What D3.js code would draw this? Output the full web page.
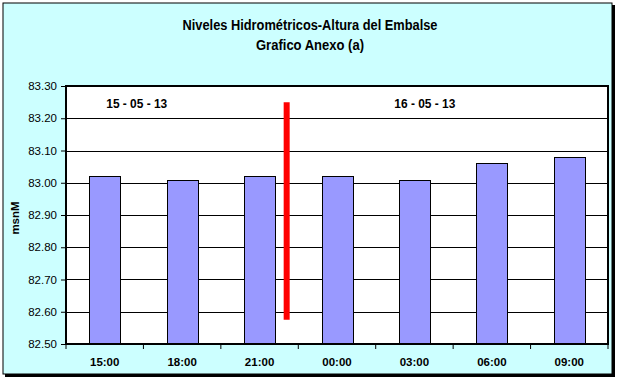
<!DOCTYPE html>
<html><head><meta charset="utf-8">
<script src="https://cdn.jsdelivr.net/npm/d3@7"></script>
<style>body{margin:0;background:#fff}svg{display:block}text{font-family:"Liberation Sans",Arial,sans-serif}</style>
</head><body>
<svg id="c" width="619" height="383"></svg>
<script>
const categories = ["15:00","18:00","21:00","00:00","03:00","06:00","09:00"];
const values = [83.02, 83.01, 83.02, 83.02, 83.01, 83.06, 83.08];
const yTicks = [82.50,82.60,82.70,82.80,82.90,83.00,83.10,83.20,83.30];
const dayLabels = [{text:"15 - 05 - 13", pos:0.52},{text:"16 - 05 - 13", pos:4.24}];
const dayLabelValue = 83.25;
const marker = {pos:2.85, from:82.575, to:83.25};
const titleLines = ["Niveles Hidrométricos-Altura del Embalse","Grafico Anexo (a)"];
const titleWidths = [255, 108];
const yLabel = "msnM";

const svg = d3.select("#c");
// outer frame with shadow
svg.append("rect").attr("x",5).attr("y",5).attr("width",610).attr("height",372).attr("fill","#000");
svg.append("rect").attr("x",3).attr("y",3).attr("width",609).attr("height",371).attr("fill","#CCFFFF").attr("stroke","#000").attr("stroke-width",1);

const m = {l:66,r:608,t:86,b:344};
const x = d3.scaleBand().domain(categories).range([m.l,m.r]).paddingInner(0.6).paddingOuter(0.3);
const xb = d3.scaleLinear().domain([0,categories.length]).range([m.l,m.r]);
const y = d3.scaleLinear().domain([82.5,83.3]).range([m.b,m.t]);

svg.append("rect").attr("x",m.l).attr("y",m.t).attr("width",m.r-m.l).attr("height",m.b-m.t).attr("fill","#fff");

// grid
svg.append("g").selectAll("line").data(yTicks.slice(1,-1)).join("line")
  .attr("x1",m.l).attr("x2",m.r).attr("y1",d=>Math.round(y(d))+0.5).attr("y2",d=>Math.round(y(d))+0.5)
  .attr("stroke","#000").attr("stroke-width",1);

// bars
svg.append("g").selectAll("rect").data(values).join("rect")
  .attr("x",(d,i)=>Math.round(x(categories[i]))+0.5).attr("width",Math.round(x.bandwidth()))
  .attr("y",d=>Math.round(y(d))+0.5).attr("height",d=>m.b-Math.round(y(d))-0.5)
  .attr("fill","#9999FF").attr("stroke","#000").attr("stroke-width",1);

// red marker
svg.append("line").attr("x1",xb(marker.pos)).attr("x2",xb(marker.pos))
  .attr("y1",y(marker.to)).attr("y2",y(marker.from)).attr("stroke","#FF0000").attr("stroke-width",6);

// plot border
svg.append("rect").attr("x",m.l).attr("y",m.t).attr("width",m.r-m.l).attr("height",m.b-m.t)
  .attr("fill","none").attr("stroke","#000").attr("stroke-width",2);

// y axis
const ya = svg.append("g").attr("transform",`translate(${m.l},0)`)
  .call(d3.axisLeft(y).tickValues(yTicks).tickFormat(d3.format(".2f")).tickSize(5).tickPadding(4));
ya.select(".domain").remove();
ya.selectAll("line").attr("stroke","#000").attr("stroke-width",1);
ya.selectAll("text").attr("font-size",11.5).attr("fill","#000").attr("font-family","Liberation Sans, Arial, sans-serif");

// x axis ticks at category boundaries
const xg = svg.append("g");
xg.selectAll("line").data(d3.range(categories.length+1)).join("line")
  .attr("x1",d=>xb(d)).attr("x2",d=>xb(d)).attr("y1",m.b).attr("y2",m.b+5).attr("stroke","#000");
xg.selectAll("text").data(categories).join("text")
  .attr("x",d=>x(d)+x.bandwidth()/2).attr("y",366).attr("text-anchor","middle")
  .attr("font-size",11.5).attr("font-weight","bold").attr("fill","#000").text(d=>d);

// day labels
svg.append("g").selectAll("text").data(dayLabels).join("text")
  .attr("x",d=>xb(d.pos)).attr("y",y(dayLabelValue)+6)
  .attr("font-size",12).attr("font-weight","bold").attr("textLength",61).attr("lengthAdjust","spacingAndGlyphs")
  .attr("fill","#000").text(d=>d.text);

// title
svg.append("g").selectAll("text").data(titleLines).join("text")
  .attr("x",(d,i)=>310 - titleWidths[i]/2 + (i?0:0)).attr("y",(d,i)=>30+i*20)
  .attr("font-size",14.5).attr("font-weight","bold").attr("fill","#000")
  .attr("textLength",(d,i)=>titleWidths[i]).attr("lengthAdjust","spacingAndGlyphs").text(d=>d);

// y label
svg.append("text").attr("transform","translate(19,218) rotate(-90)").attr("text-anchor","middle")
  .attr("font-size",11.5).attr("font-weight","bold").attr("fill","#000").text(yLabel);
</script>
</body></html>
